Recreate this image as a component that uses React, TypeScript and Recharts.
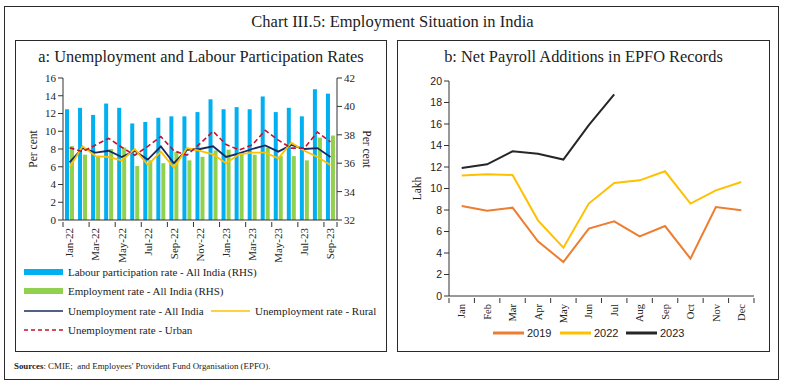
import React from 'react';
import { ComposedChart, Bar, Line, XAxis, YAxis } from 'recharts';

// ---------- Panel a data ----------
const months = ['Jan-22','Feb-22','Mar-22','Apr-22','May-22','Jun-22','Jul-22','Aug-22','Sep-22','Oct-22','Nov-22','Dec-22','Jan-23','Feb-23','Mar-23','Apr-23','May-23','Jun-23','Jul-23','Aug-23','Sep-23'];
const lprAllIndia = [39.8,39.9,39.4,40.2,39.9,38.8,38.9,39.2,39.3,39.3,39.6,40.5,39.8,39.95,39.8,40.7,39.6,39.9,39.3,41.2,40.9];
const erAllIndia = [37.2,36.6,36.5,37.0,37.1,35.8,36.2,36.0,36.8,36.2,36.45,36.9,36.95,36.8,36.6,37.1,36.5,36.5,36.2,37.8,37.95];
const urAllIndia = [6.5,8.1,7.6,7.8,7.1,7.8,6.8,8.3,6.4,7.9,8.0,8.3,7.1,7.5,8.0,8.4,7.7,8.45,8.0,8.1,7.1];
const urRural = [5.9,8.3,7.2,7.1,6.7,8.0,6.2,7.7,5.9,8.1,7.8,7.4,6.4,7.4,7.6,7.6,6.95,8.7,7.8,7.1,6.2];
const urUrban = [8.15,7.7,8.45,9.2,8.2,7.3,8.3,9.4,7.8,7.3,8.6,10.0,8.5,7.9,8.45,10.1,9.0,8.1,8.1,9.9,8.8];
const leftTicks = [0,2,4,6,8,10,12,14,16];
const rightTicks = [32,34,36,38,40,42];

// ---------- Panel b data ----------
const monthNames = ['Jan','Feb','Mar','Apr','May','Jun','Jul','Aug','Sep','Oct','Nov','Dec'];
const payroll2019 = [8.37,7.94,8.22,5.09,3.16,6.27,6.95,5.55,6.51,3.48,8.28,7.97];
const payroll2022 = [11.2,11.32,11.26,7.04,4.5,8.6,10.51,10.76,11.6,8.6,9.83,10.6];
const payroll2023 = [11.9,12.25,13.46,13.24,12.69,15.9,18.76,null,null,null,null,null];
const lakhTicks = [0,2,4,6,8,10,12,14,16,18,20];

const leftData = months.map((m, i) => ({
  month: m,
  lpr: lprAllIndia[i],
  er: erAllIndia[i],
  ur: urAllIndia[i],
  rural: urRural[i],
  urban: urUrban[i],
}));

const rightData = monthNames.map((m, i) => ({
  month: m,
  y2019: payroll2019[i],
  y2022: payroll2022[i],
  y2023: payroll2023[i],
}));

const SERIF = '"Liberation Serif", "DejaVu Serif", serif';
const SANS = '"Liberation Sans", "DejaVu Sans", sans-serif';
const C_BLUE = '#00B0F0';
const C_GREEN = '#92D050';
const C_NAVY = '#1B2A5E';
const C_GOLD = '#FFC000';
const C_RED = '#C8102E';
const C_ORANGE = '#ED7D31';
const C_BLACK = '#262626';
const AXIS = '#333';

// chart geometry
const L_W = 370, L_H = 200, L_YW = 48, L_XH = 48;
const L_BAND = (L_W - 2 * L_YW) / months.length;
const R_W = 372, R_H = 258, R_YW = 52, R_MR = 15, R_XH = 30;
const R_BAND = (R_W - R_YW - R_MR) / monthNames.length;

const LeftTick = (props: any) => {
  const { x, y, payload, index } = props;
  const i = index ?? payload.index;
  const even = i % 2 === 0;
  const last = i === months.length - 1;
  return (
    <g transform={`translate(${x},${y})`}>
      {even && <line x1={-L_BAND / 2} x2={-L_BAND / 2} y1={0} y2={5} stroke={AXIS} strokeWidth={1} />}
      {last && <line x1={L_BAND / 2} x2={L_BAND / 2} y1={0} y2={5} stroke={AXIS} strokeWidth={1} />}
      {even && (
        <text transform="rotate(-90)" x={-6} y={0} dy="0.35em" textAnchor="end" fontSize={11} fontFamily={SERIF} fill="#222">
          {payload.value}
        </text>
      )}
    </g>
  );
};

const RightTick = (props: any) => {
  const { x, y, payload, index } = props;
  const i = index ?? payload.index;
  const last = i === monthNames.length - 1;
  return (
    <g transform={`translate(${x},${y})`}>
      <line x1={-R_BAND / 2} x2={-R_BAND / 2} y1={0} y2={5} stroke={AXIS} strokeWidth={1} />
      {last && <line x1={R_BAND / 2} x2={R_BAND / 2} y1={0} y2={5} stroke={AXIS} strokeWidth={1} />}
      <text transform="rotate(-90)" x={-6} y={0} dy="0.35em" textAnchor="end" fontSize={10.5} fontFamily={SERIF} fill="#222">
        {payload.value}
      </text>
    </g>
  );
};

const leftLegend = [
  { label: 'Labour participation rate - All India (RHS)', color: C_BLUE, kind: 'bar', left: 24, top: 272 },
  { label: 'Employment rate - All India (RHS)', color: C_GREEN, kind: 'bar', left: 24, top: 291 },
  { label: 'Unemployment rate - All India', color: C_NAVY, kind: 'line', left: 24, top: 311 },
  { label: 'Unemployment rate - Rural', color: C_GOLD, kind: 'line', left: 211, top: 311 },
  { label: 'Unemployment rate - Urban', color: C_RED, kind: 'dash', left: 24, top: 330 },
];

const rightLegend = [
  { label: '2019', color: C_ORANGE, left: 493 },
  { label: '2022', color: C_GOLD, left: 560 },
  { label: '2023', color: C_BLACK, left: 626 },
];

export default function App() {
  return (
    <div style={{ position: 'absolute', left: 0, top: 0, width: 785, height: 386, background: '#fff', fontFamily: SERIF, color: '#222' }}>
      {/* outer frame */}
      <div style={{ position: 'absolute', left: 4, top: 6, width: 775, height: 374, border: '1.5px solid #2a2a2a', boxSizing: 'border-box' }} />
      <div style={{ position: 'absolute', left: 0, width: 785, top: 12, textAlign: 'center', fontSize: 16.5, lineHeight: '20px' }}>
        Chart III.5: Employment Situation in India
      </div>
      {/* panel frames */}
      <div style={{ position: 'absolute', left: 15, top: 40, width: 372, height: 312, border: '1.5px solid #2a2a2a', boxSizing: 'border-box' }} />
      <div style={{ position: 'absolute', left: 397, top: 40, width: 373, height: 312, border: '1.5px solid #2a2a2a', boxSizing: 'border-box' }} />
      <div style={{ position: 'absolute', left: 15, width: 372, top: 47, textAlign: 'center', fontSize: 16.4, lineHeight: '20px', whiteSpace: 'nowrap' }}>
        a: Unemployment and Labour Participation Rates
      </div>
      <div style={{ position: 'absolute', left: 397, width: 373, top: 47, textAlign: 'center', fontSize: 16.4, lineHeight: '20px', whiteSpace: 'nowrap' }}>
        b: Net Payroll Additions in EPFO Records
      </div>

      {/* panel a chart */}
      <div style={{ position: 'absolute', left: 15, top: 68 }}>
        <ComposedChart width={L_W} height={L_H} data={leftData} margin={{ top: 10, right: 0, left: 0, bottom: 0 }} barSize={4} barGap={1} barCategoryGap={0}>
          <XAxis dataKey="month" xAxisId="x" interval={0} height={L_XH} tickLine={false} tickSize={0} tick={<LeftTick />} stroke={AXIS} />
          <YAxis yAxisId="l" orientation="left" width={L_YW} domain={[0, 16]} ticks={leftTicks} interval={0} stroke={AXIS} tickSize={5}
            tick={{ fontSize: 11, fontFamily: SERIF, fill: '#222' }}
            label={{ value: 'Per cent', angle: -90, position: 'center', dx: -6, fontSize: 11.5, fontFamily: SERIF, fill: '#222' }} />
          <YAxis yAxisId="r" orientation="right" width={L_YW} domain={[32, 42]} ticks={rightTicks} interval={0} stroke={AXIS} tickSize={5}
            tick={{ fontSize: 11, fontFamily: SERIF, fill: '#222' }}
            label={{ value: 'Per cent', angle: 90, position: 'center', dx: 6, fontSize: 11.5, fontFamily: SERIF, fill: '#222' }} />
          <Bar dataKey="lpr" xAxisId="x" yAxisId="r" fill={C_BLUE} isAnimationActive={false} />
          <Bar dataKey="er" xAxisId="x" yAxisId="r" fill={C_GREEN} isAnimationActive={false} />
          <Line dataKey="ur" xAxisId="x" yAxisId="l" stroke={C_NAVY} strokeWidth={1.8} dot={false} isAnimationActive={false} />
          <Line dataKey="rural" xAxisId="x" yAxisId="l" stroke={C_GOLD} strokeWidth={1.8} dot={false} isAnimationActive={false} />
          <Line dataKey="urban" xAxisId="x" yAxisId="l" stroke={C_RED} strokeWidth={1.6} strokeDasharray="5 3" dot={false} isAnimationActive={false} />
        </ComposedChart>
      </div>

      {/* panel a legend */}
      {leftLegend.map((it) => (
        <div key={it.label} style={{ position: 'absolute', left: it.left, top: it.top - 8, height: 16, display: 'flex', alignItems: 'center', fontSize: 11, whiteSpace: 'nowrap' }}>
          <svg width={40} height={16} style={{ marginRight: 4 }}>
            {it.kind === 'bar' && <rect x={0} y={5} width={39} height={6} fill={it.color} />}
            {it.kind === 'line' && <line x1={0} x2={39} y1={8} y2={8} stroke={it.color} strokeWidth={1.3} />}
            {it.kind === 'dash' && <line x1={0} x2={39} y1={8} y2={8} stroke={it.color} strokeWidth={1.3} strokeDasharray="4 3" />}
          </svg>
          <span>{it.label}</span>
        </div>
      ))}

      {/* panel b chart */}
      <div style={{ position: 'absolute', left: 397, top: 68 }}>
        <ComposedChart width={R_W} height={R_H} data={rightData} margin={{ top: 13, right: R_MR, left: 0, bottom: 0 }}>
          <XAxis dataKey="month" scale="band" interval={0} height={R_XH} tickLine={false} tickSize={0} tick={<RightTick />} stroke={AXIS} />
          <YAxis width={R_YW} domain={[0, 20]} ticks={lakhTicks} interval={0} stroke={AXIS} tickSize={5}
            tick={{ fontSize: 10.5, fontFamily: SANS, fill: '#222' }}
            label={{ value: 'Lakh', angle: -90, position: 'center', dx: -6, fontSize: 11.5, fontFamily: SERIF, fill: '#222' }} />
          <Line dataKey="y2019" stroke={C_ORANGE} strokeWidth={2} dot={false} isAnimationActive={false} />
          <Line dataKey="y2022" stroke={C_GOLD} strokeWidth={2} dot={false} isAnimationActive={false} />
          <Line dataKey="y2023" stroke={C_BLACK} strokeWidth={2} dot={false} isAnimationActive={false} />
        </ComposedChart>
      </div>

      {/* panel b legend */}
      {rightLegend.map((it) => (
        <div key={it.label} style={{ position: 'absolute', left: it.left, top: 325, height: 16, display: 'flex', alignItems: 'center', fontSize: 11, fontFamily: SANS, whiteSpace: 'nowrap' }}>
          <svg width={31} height={16} style={{ marginRight: 3 }}>
            <line x1={0} x2={31} y1={8} y2={8} stroke={it.color} strokeWidth={3} />
          </svg>
          <span>{it.label}</span>
        </div>
      ))}

      {/* sources */}
      <div style={{ position: 'absolute', left: 14, top: 361, fontSize: 8.9, whiteSpace: 'nowrap' }}>
        <b>Sources</b>: CMIE;&nbsp; and Employees&apos; Provident Fund Organisation (EPFO).
      </div>
    </div>
  );
}
